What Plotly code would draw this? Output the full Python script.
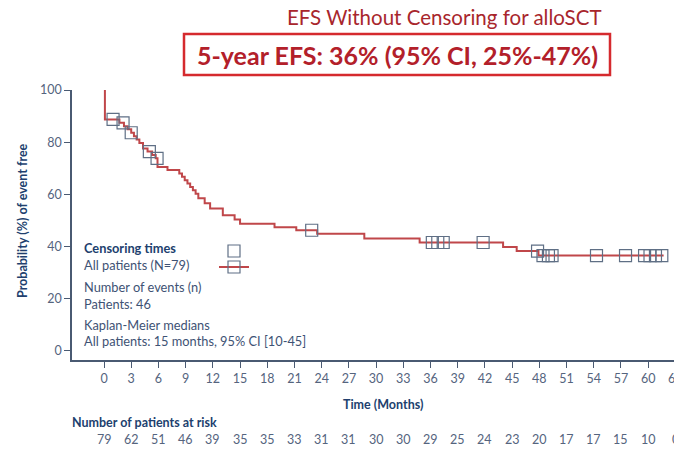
import numpy as np
import plotly.graph_objects as go

# ---- data ----
km_time = [0, 0.1, 1.7, 2.2, 2.6, 3.0, 3.3, 3.6, 3.9, 4.3, 4.8, 5.3, 5.7, 5.9, 7.0, 8.3, 8.6,
           8.9, 9.2, 9.5, 9.8, 10.1, 10.4, 11.1, 11.7, 13.1, 14.4, 15.0, 18.8, 21.2, 23.5,
           28.7, 34.8, 44.0, 45.5, 47.9, 61.7]
km_surv = [100, 88.7, 87.4, 86.1, 84.9, 83.6, 82.3, 81.0, 79.7, 77.6, 76.4, 75.1, 73.8, 70.5,
           69.3, 68.0, 66.7, 65.4, 64.1, 62.8, 61.5, 60.2, 58.5, 56.6, 54.5, 52.0, 50.3, 48.7,
           47.4, 46.2, 44.9, 43.0, 41.5, 39.8, 38.2, 36.5, 36.5]
censor_time = [1.0, 2.1, 3.0, 5.0, 5.85, 22.9, 36.2, 36.8, 37.4, 41.8, 47.8, 48.4, 49.0, 49.4,
               54.3, 57.5, 59.6, 60.2, 60.8, 61.5]
risk_time = list(range(0, 64, 3))
risk_n = ["79", "62", "51", "46", "39", "35", "35", "33", "31", "31", "30", "30", "29", "25",
          "24", "23", "20", "17", "17", "15", "10", "0"]
x_ticks = list(range(0, 64, 3))
y_ticks = [0, 20, 40, 60, 80, 100]

title_text = "EFS Without Censoring for alloSCT"
subtitle_text = "5-year EFS: 36% (95% CI, 25%-47%)"
legend_lines = [
    ("Censoring times", True, 248),
    ("All patients (N=79)", False, 265),
    ("Number of events (n)", False, 287),
    ("Patients: 46", False, 304),
    ("Kaplan-Meier medians", False, 325),
    ("All patients: 15 months, 95% CI [10-45]", False, 341),
]

# censor marks sit on the step curve
kt = np.array(km_time)
ks = np.array(km_surv)
censor_surv = [float(ks[np.searchsorted(kt, t, side="right") - 1]) for t in censor_time]

# ---- layout geometry (page pixels) ----
W, H = 674, 449
L, R, T, B = 72, 674, 90, 360
PW, PH = R - L, B - T
PX_PER_MONTH = 9.07
X0_PX = 104  # pixel of month 0


def px(x):
    return (x - L) / PW


def py(y):
    return (B - y) / PH


def mx(t):
    # month -> paper x
    return px(X0_PX + t * PX_PER_MONTH)


FONT = "Lato"
RED_LINE = "#c0474a"
BOX_COL = "#5f6f85"
NAVY = "#213f6e"
TICK_COL = "#55647e"
TEXT_COL = "#3e5274"
x_lo = (L - X0_PX) / PX_PER_MONTH
x_hi = x_lo + PW / PX_PER_MONTH

fig = go.Figure()
fig.add_trace(go.Scatter(x=km_time, y=km_surv, mode="lines", line=dict(color=RED_LINE, width=2, shape="hv"),
                         hoverinfo="skip", showlegend=False))
fig.add_trace(go.Scatter(x=censor_time, y=censor_surv, mode="markers",
                         marker=dict(symbol="square-open", size=12, color=BOX_COL, line=dict(width=1.2, color=BOX_COL)),
                         hoverinfo="skip", showlegend=False))

ann = []
ann.append(dict(text=title_text, x=px(444), y=py(17), xref="paper", yref="paper", showarrow=False,
                font=dict(family=FONT, size=20.5, color="#a8262c"), xanchor="center", yanchor="middle"))
ann.append(dict(text="<b>" + subtitle_text + "</b>", x=px(397), y=py(55), xref="paper", yref="paper",
                showarrow=False, font=dict(family=FONT, size=25, color="#b3202a"), xanchor="center", yanchor="middle"))
ann.append(dict(text="<b>Probability (%) of event free</b>", x=px(22), y=py(221), xref="paper", yref="paper",
                showarrow=False, textangle=-90, font=dict(family=FONT, size=12.5, color=NAVY),
                xanchor="center", yanchor="middle"))
ann.append(dict(text="<b>Time (Months)</b>", x=px(383), y=py(404), xref="paper", yref="paper", showarrow=False,
                font=dict(family=FONT, size=12.5, color=NAVY), xanchor="center", yanchor="middle"))
ann.append(dict(text="<b>Number of patients at risk</b>", x=px(70), y=py(422), xref="paper", yref="paper",
                showarrow=False, font=dict(family=FONT, size=12.5, color=NAVY), xanchor="left", yanchor="middle"))
for t, n in zip(risk_time, risk_n):
    ann.append(dict(text=n, x=mx(t), y=py(439), xref="paper", yref="paper", showarrow=False,
                    font=dict(family=FONT, size=12.5, color=TICK_COL), xanchor="center", yanchor="middle"))
# tick labels beyond the visible range (cut by the page edge)
for t in x_ticks:
    if t > x_hi:
        ann.append(dict(text=str(t), x=mx(t), y=py(378), xref="paper", yref="paper", showarrow=False,
                        font=dict(family=FONT, size=12.5, color=TICK_COL), xanchor="center", yanchor="middle"))
for txt, bold, yy in legend_lines:
    ann.append(dict(text=("<b>%s</b>" % txt) if bold else txt, x=px(82), y=py(yy), xref="paper", yref="paper",
                    showarrow=False, font=dict(family=FONT, size=12.8, color=NAVY if bold else TEXT_COL),
                    xanchor="left", yanchor="middle"))

shapes = [
    dict(type="rect", xref="paper", yref="paper", x0=px(184), x1=px(610), y0=py(34), y1=py(75),
         line=dict(color="#d52a2e", width=2.5)),
    dict(type="rect", xref="paper", yref="paper", x0=px(228), x1=px(240), y0=py(245), y1=py(257),
         line=dict(color=BOX_COL, width=1.2)),
    dict(type="line", xref="paper", yref="paper", x0=px(219), x1=px(249), y0=py(267), y1=py(267),
         line=dict(color=RED_LINE, width=2)),
    dict(type="rect", xref="paper", yref="paper", x0=px(228), x1=px(240), y0=py(261), y1=py(273),
         line=dict(color=BOX_COL, width=1.2)),
]

fig.update_layout(
    width=W, height=H, margin=dict(l=L, r=W - R, t=T, b=H - B),
    paper_bgcolor="white", plot_bgcolor="white",
    font=dict(family=FONT, color=TICK_COL),
    xaxis=dict(range=[x_lo, x_hi], tickvals=x_ticks, ticks="outside", ticklen=6, tickwidth=1.3,
               tickcolor="#4a5a72", showline=True, linecolor="#4a5a72", linewidth=1.5, showgrid=False,
               zeroline=False, tickfont=dict(family=FONT, size=12.5, color=TICK_COL)),
    yaxis=dict(range=[-9.3 / 2.607, 100], tickvals=y_ticks, ticks="outside", ticklen=6, tickwidth=1.3,
               tickcolor="#4a5a72", showline=True, linecolor="#4a5a72", linewidth=1.5, showgrid=False,
               zeroline=False, tickfont=dict(family=FONT, size=12.5, color=TICK_COL)),
    annotations=ann, shapes=shapes, showlegend=False,
)
fig.write_html("out.html")
